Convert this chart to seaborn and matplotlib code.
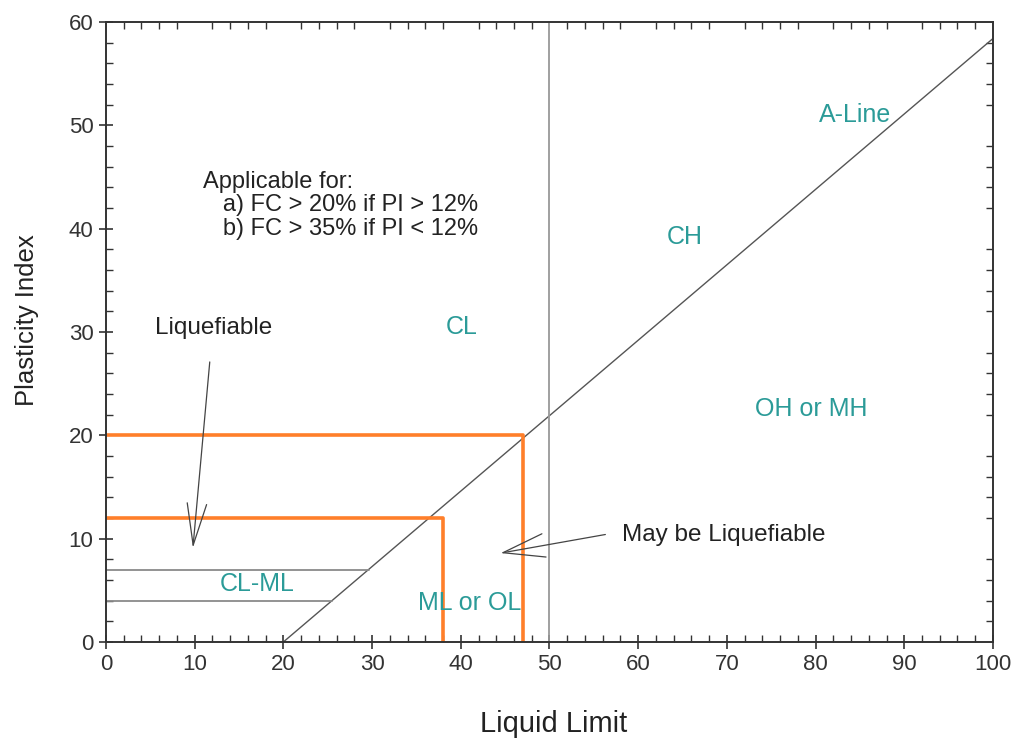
import matplotlib
matplotlib.use("Agg")
import matplotlib.pyplot as plt
from matplotlib.ticker import MultipleLocator
import seaborn as sns

# Plasticity chart data
a_line_ll = [20, 100]
a_line_pi = [0, 58.4]
boundary_ll = [50, 50]
boundary_pi = [0, 60]

box_upper_ll = [0, 47, 47]
box_upper_pi = [20, 20, 0]
box_lower_ll = [0, 38, 38]
box_lower_pi = [12, 12, 0]

clml_top_ll = [0, 29.6]
clml_top_pi = [7, 7]
clml_bottom_ll = [0, 25.5]
clml_bottom_pi = [4, 4]

x_ticks = [0, 10, 20, 30, 40, 50, 60, 70, 80, 90, 100]
y_ticks = [0, 10, 20, 30, 40, 50, 60]

zone_labels = ["A-Line", "CH", "CL", "OH or MH", "CL-ML", "ML or OL"]
zone_x = [84.4, 65.2, 40.1, 79.5, 17.0, 41.0]
zone_y = [51.0, 39.2, 30.5, 22.5, 5.6, 3.8]

sns.set_style("white")
plt.rcParams["font.family"] = ["Liberation Sans", "DejaVu Sans"]

fig = plt.figure(figsize=(10.22, 7.45), dpi=100)
ax = fig.add_axes([0.1037, 0.1383, 0.8679, 0.8322])

teal = "#2b9b98"
orange = "#ff7f2a"


def draw(xs, ys, color, lw):
    sns.lineplot(x=xs, y=ys, ax=ax, color=color, lw=lw, sort=False,
                 estimator=None, errorbar=None)


draw(a_line_ll, a_line_pi, "#555555", 1.0)
draw(boundary_ll, boundary_pi, "#999999", 1.3)
draw(clml_top_ll, clml_top_pi, "#8a8a8a", 1.3)
draw(clml_bottom_ll, clml_bottom_pi, "#8a8a8a", 1.3)
draw(box_upper_ll, box_upper_pi, orange, 2.6)
draw(box_lower_ll, box_lower_pi, orange, 2.6)

for label, xx, yy in zip(zone_labels, zone_x, zone_y):
    ax.text(xx, yy, label, color=teal, fontsize=18, ha="center", va="center")

ax.text(12.1, 30.4, "Liquefiable", color="#222222", fontsize=17.5, ha="center", va="center")
ax.text(69.6, 10.4, "May be Liquefiable", color="#222222", fontsize=17.5, ha="center", va="center")
ax.text(10.9, 45.6,
        "Applicable for:\n   a) FC > 20% if PI > 12%\n   b) FC > 35% if PI < 12%",
        color="#222222", fontsize=17, ha="left", va="top", linespacing=1.1)

ax.annotate("", xy=(9.8, 9.1), xytext=(11.7, 27.1),
            arrowprops=dict(arrowstyle="->,head_length=3.0,head_width=0.7",
                            color="#444444", lw=0.9, shrinkA=0, shrinkB=0))
ax.annotate("", xy=(44.5, 8.6), xytext=(56.3, 10.4),
            arrowprops=dict(arrowstyle="->,head_length=3.0,head_width=0.85",
                            color="#444444", lw=0.9, shrinkA=0, shrinkB=0))

ax.set_xlim(0, 100)
ax.set_ylim(0, 60)
ax.set_xticks(x_ticks)
ax.set_yticks(y_ticks)
ax.xaxis.set_minor_locator(MultipleLocator(2))
ax.yaxis.set_minor_locator(MultipleLocator(2))
ax.tick_params(which="major", direction="inout", length=10, width=1.2,
               colors="#333333", labelsize=16, labelcolor="#333333",
               top=False, right=False, bottom=True, left=True, pad=4)
ax.tick_params(which="minor", direction="in", length=5, width=1.0,
               colors="#333333", top=True, right=True, bottom=True, left=True)

for side in ["left", "right", "top", "bottom"]:
    ax.spines[side].set_visible(True)
    ax.spines[side].set_color("#333333")
    ax.spines[side].set_linewidth(1.4)

ax.set_xlabel("Liquid Limit", fontsize=21, color="#222222")
ax.set_ylabel("Plasticity Index", fontsize=18.5, color="#222222")
ax.xaxis.set_label_coords(0.505, -0.11)
ax.yaxis.set_label_coords(-0.075, 0.519)

fig.savefig("out.png", dpi=100, facecolor="white")
